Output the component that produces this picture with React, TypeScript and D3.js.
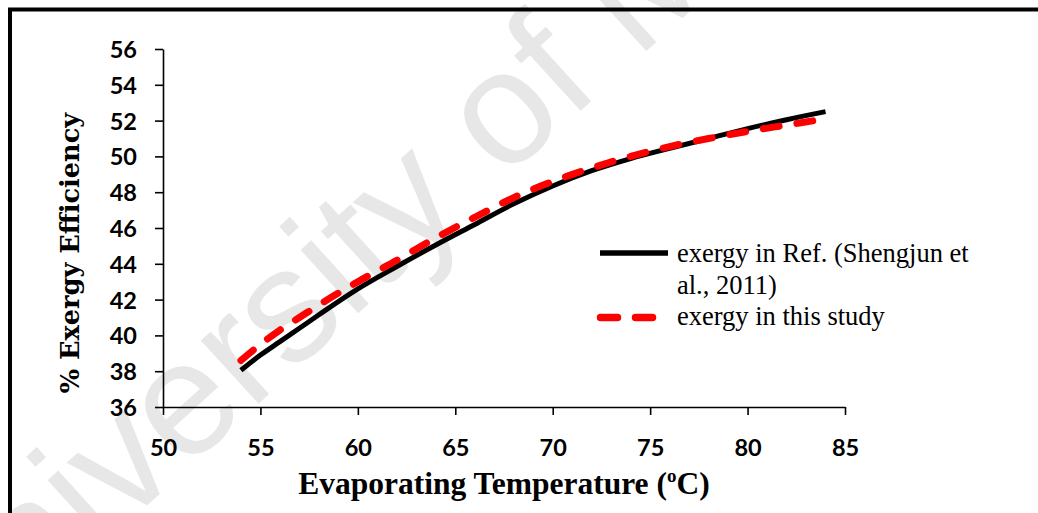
import React, { useEffect, useRef } from "react";
import * as d3 from "d3";

const temps = [54, 55, 56, 57, 58, 60, 62, 64, 66, 68, 70, 72, 74, 76, 78, 80, 82, 84];
const refExergy = [38.05, 38.9, 39.65, 40.4, 41.15, 42.6, 43.85, 45.05, 46.2, 47.35, 48.35, 49.2, 49.88, 50.45, 51.0, 51.55, 52.05, 52.5];
const studyExergy = [38.6, 39.5, 40.3, 41.0, 41.7, 43.0, 44.2, 45.45, 46.6, 47.7, 48.6, 49.35, 50.0, 50.55, 51.0, 51.4, 51.75, 52.1];
const xTicks = [50, 55, 60, 65, 70, 75, 80, 85];
const yTicks = [36, 38, 40, 42, 44, 46, 48, 50, 52, 54, 56];
const seriesNames = ["exergy in Ref. (Shengjun et", "al., 2011)", "exergy in this study"];
const xTitle = "Evaporating Temperature (";
const yTitle = "% Exergy Efficiency";
const watermark = "University of Malaya";

export default function App() {
  const ref = useRef<SVGSVGElement>(null);

  useEffect(() => {
    const svg = d3.select(ref.current);
    svg.selectAll("*").remove();
    const W = 1038, H = 513;

    // watermark
    svg.append("text")
      .attr("transform", "translate(-56,690) rotate(-42.3)")
      .attr("font-family", "'Liberation Sans', Arial, sans-serif")
      .attr("font-size", 162)
      .attr("fill", "#e7e7e7")
      .text(watermark);

    // frame
    svg.append("rect")
      .attr("x", 10).attr("y", 9.5)
      .attr("width", 1200).attr("height", 700)
      .attr("fill", "none").attr("stroke", "#000").attr("stroke-width", 4);

    const x = d3.scaleLinear().domain([50, 85]).range([163, 845]);
    const y = d3.scaleLinear().domain([36, 56]).range([407, 49]);

    const tickFont = "Lato, 'Open Sans', sans-serif";

    const gy = svg.append("g").attr("transform", `translate(${x(50)},0)`)
      .call(d3.axisLeft(y).tickValues(yTicks).tickSize(8).tickSizeOuter(0).tickPadding(18).tickFormat(d3.format("d")));
    gy.select(".domain").attr("stroke", "#000").attr("stroke-width", 1.6);
    gy.selectAll(".tick line").attr("stroke", "#000").attr("stroke-width", 1.6);
    gy.selectAll(".tick text")
      .attr("font-family", tickFont).attr("font-weight", 700).attr("font-size", 23.5).attr("fill", "#000")
      .attr("dy", "0.36em");

    const gx = svg.append("g").attr("transform", `translate(0,${y(36)})`)
      .call(d3.axisBottom(x).tickValues(xTicks).tickSize(8).tickSizeOuter(0).tickPadding(24).tickFormat(d3.format("d")));
    gx.select(".domain").attr("stroke", "#000").attr("stroke-width", 1.6);
    gx.selectAll(".tick line").attr("stroke", "#000").attr("stroke-width", 1.6);
    gx.selectAll(".tick text")
      .attr("font-family", tickFont).attr("font-weight", 700).attr("font-size", 23.5).attr("fill", "#000");

    const line = d3.line<number>()
      .x((_, i) => x(temps[i]))
      .y((d) => y(d))
      .curve(d3.curveMonotoneX);

    svg.append("path").attr("d", line(refExergy)!)
      .attr("fill", "none").attr("stroke", "#000").attr("stroke-width", 5);
    svg.append("path").attr("d", line(studyExergy)!)
      .attr("fill", "none").attr("stroke", "#ff0000").attr("stroke-width", 7)
      .attr("stroke-linecap", "round").attr("stroke-dasharray", "16,18");

    // legend
    svg.append("line").attr("x1", 600).attr("x2", 668).attr("y1", 253).attr("y2", 253)
      .attr("stroke", "#000").attr("stroke-width", 5.5);
    svg.append("line").attr("x1", 600.5).attr("x2", 654).attr("y1", 317.5).attr("y2", 317.5)
      .attr("stroke", "#ff0000").attr("stroke-width", 7.5).attr("stroke-linecap", "round")
      .attr("stroke-dasharray", "17,18");
    const lf = "'Liberation Serif', 'Times New Roman', serif";
    const lys = [262, 293.5, 325];
    seriesNames.forEach((s, i) => {
      svg.append("text").attr("x", 677).attr("y", lys[i])
        .attr("font-family", lf).attr("font-size", 26.5).attr("fill", "#000").text(s);
    });

    // x title
    const xt = svg.append("text").attr("x", (x(50) + x(85)) / 2).attr("y", 494)
      .attr("text-anchor", "middle")
      .attr("font-family", lf).attr("font-weight", 700).attr("font-size", 31.5).attr("fill", "#000");
    xt.append("tspan").text(xTitle);
    xt.append("tspan").attr("font-size", 19).attr("dy", -12).text("o");
    xt.append("tspan").attr("dy", 12).text("C)");

    // y title
    svg.append("text")
      .attr("transform", `translate(79,253) rotate(-90)`)
      .attr("text-anchor", "middle")
      .attr("font-family", "'DejaVu Serif', serif").attr("font-weight", 700).attr("font-size", 25.6)
      .attr("fill", "#000").text(yTitle);

    svg.attr("width", W).attr("height", H);
  }, []);

  return (
    <svg ref={ref} width={1038} height={513}
      style={{ position: "absolute", left: 0, top: 0, background: "#fff" }} />
  );
}
